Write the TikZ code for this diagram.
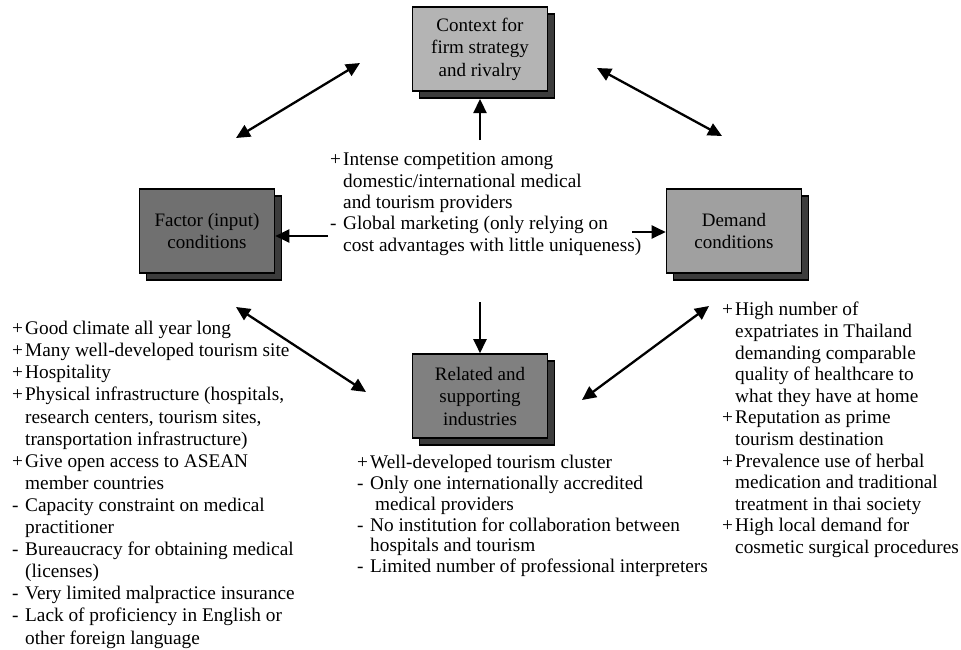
\documentclass[tikz,border=0pt]{standalone}
\usepackage{fontspec}
\setmainfont{Liberation Serif}
\usetikzlibrary{arrows.meta,shadows}
\definecolor{ctxgray}{RGB}{180,180,180}
\definecolor{facgray}{RGB}{112,112,112}
\definecolor{demgray}{RGB}{160,160,160}
\definecolor{relgray}{RGB}{128,128,128}
\definecolor{shgray}{RGB}{60,60,60}
\newcommand\itm[1]{\makebox[13pt][l]{#1}}
\begin{document}
\begin{tikzpicture}[x=1pt,y=-1pt,
  boxstyle/.style={draw=black, line width=1.6pt, minimum width=135pt, minimum height=84pt,
    align=center, inner sep=2pt, font=\fontsize{19}{22.5}\selectfont,
    drop shadow={shadow xshift=7pt, shadow yshift=-7pt, fill=shgray, opacity=1, draw=black, line width=1.2pt}},
  txt/.style={anchor=north west, inner sep=0pt, align=left, font=\fontsize{19.3}{21.3}\selectfont},
  arr/.style={line width=2.3pt, -{Triangle[length=14pt,width=13pt]}},
  darr/.style={line width=2.3pt, {Triangle[length=14pt,width=13pt]}-{Triangle[length=14pt,width=13pt]}}]
\useasboundingbox (0,0) rectangle (961,649);
\fill[white] (0,0) rectangle (961,649);

\node[boxstyle, fill=ctxgray] (top) at (480,49) {Context for\\firm strategy\\and rivalry};
\node[boxstyle, fill=facgray] (fac) at (207,231) {Factor (input)\\conditions};
\node[boxstyle, fill=demgray] (dem) at (734,231) {Demand\\conditions};
\node[boxstyle, fill=relgray] (rel) at (480,396) {Related and\\supporting\\industries};

\node[txt] (midtxt) at (330,153) {\itm{+}Intense competition among\\\itm{}domestic/international medical\\\itm{}and tourism providers\\\itm{-}Global marketing (only relying on\\\itm{}cost advantages with little uniqueness)};

\node[txt, font=\fontsize{19.3}{22.1}\selectfont] (lefttxt) at (12,321) {\itm{+}Good climate all year long\\\itm{+}Many well-developed tourism site\\\itm{+}Hospitality\\\itm{+}Physical infrastructure (hospitals,\\\itm{}research centers, tourism sites,\\\itm{}transportation infrastructure)\\\itm{+}Give open access to ASEAN\\\itm{}member countries\\\itm{-}Capacity constraint on medical\\\itm{}practitioner\\\itm{-}Bureaucracy for obtaining medical\\\itm{}(licenses)\\\itm{-}Very limited malpractice insurance\\\itm{-}Lack of proficiency in English or\\\itm{}other foreign language};

\node[txt, font=\fontsize{19.3}{21.6}\selectfont] (righttxt) at (722,302) {\itm{+}High number of\\\itm{}expatriates in Thailand\\\itm{}demanding comparable\\\itm{}quality of healthcare to\\\itm{}what they have at home\\\itm{+}Reputation as prime\\\itm{}tourism destination\\\itm{+}Prevalence use of herbal\\\itm{}medication and traditional\\\itm{}treatment in thai society\\\itm{+}High local demand for\\\itm{}cosmetic surgical procedures};

\node[txt, font=\fontsize{19.3}{20.8}\selectfont] (bottxt) at (357,455) {\itm{+}Well-developed tourism cluster\\\itm{-}Only one internationally accredited\\\itm{}\ medical providers\\\itm{-}No institution for collaboration between\\\itm{}hospitals and tourism\\\itm{-}Limited number of professional interpreters};

\coordinate (tlA) at (236,138); \coordinate (tlB) at (360,63);
\coordinate (trA) at (597,68);  \coordinate (trB) at (722,136);
\coordinate (upA) at (480,140); \coordinate (upB) at (480,99);
\coordinate (dnA) at (480,302);
\coordinate (lfA) at (328,236);
\coordinate (rtA) at (632,232);
\coordinate (blA) at (236,307); \coordinate (blB) at (366,392);
\coordinate (brA) at (709,306); \coordinate (brB) at (582,400);

\draw[darr] (tlA) -- (tlB);
\draw[darr] (trA) -- (trB);
\draw[arr] (upA) -- (upB);
\draw[arr] (dnA) -- (rel.north);
\draw[arr] (lfA) -- (fac.east|-lfA);
\draw[arr] (rtA) -- (dem.west|-rtA);
\draw[darr] (blA) -- (blB);
\draw[darr] (brA) -- (brB);
\end{tikzpicture}
\end{document}
